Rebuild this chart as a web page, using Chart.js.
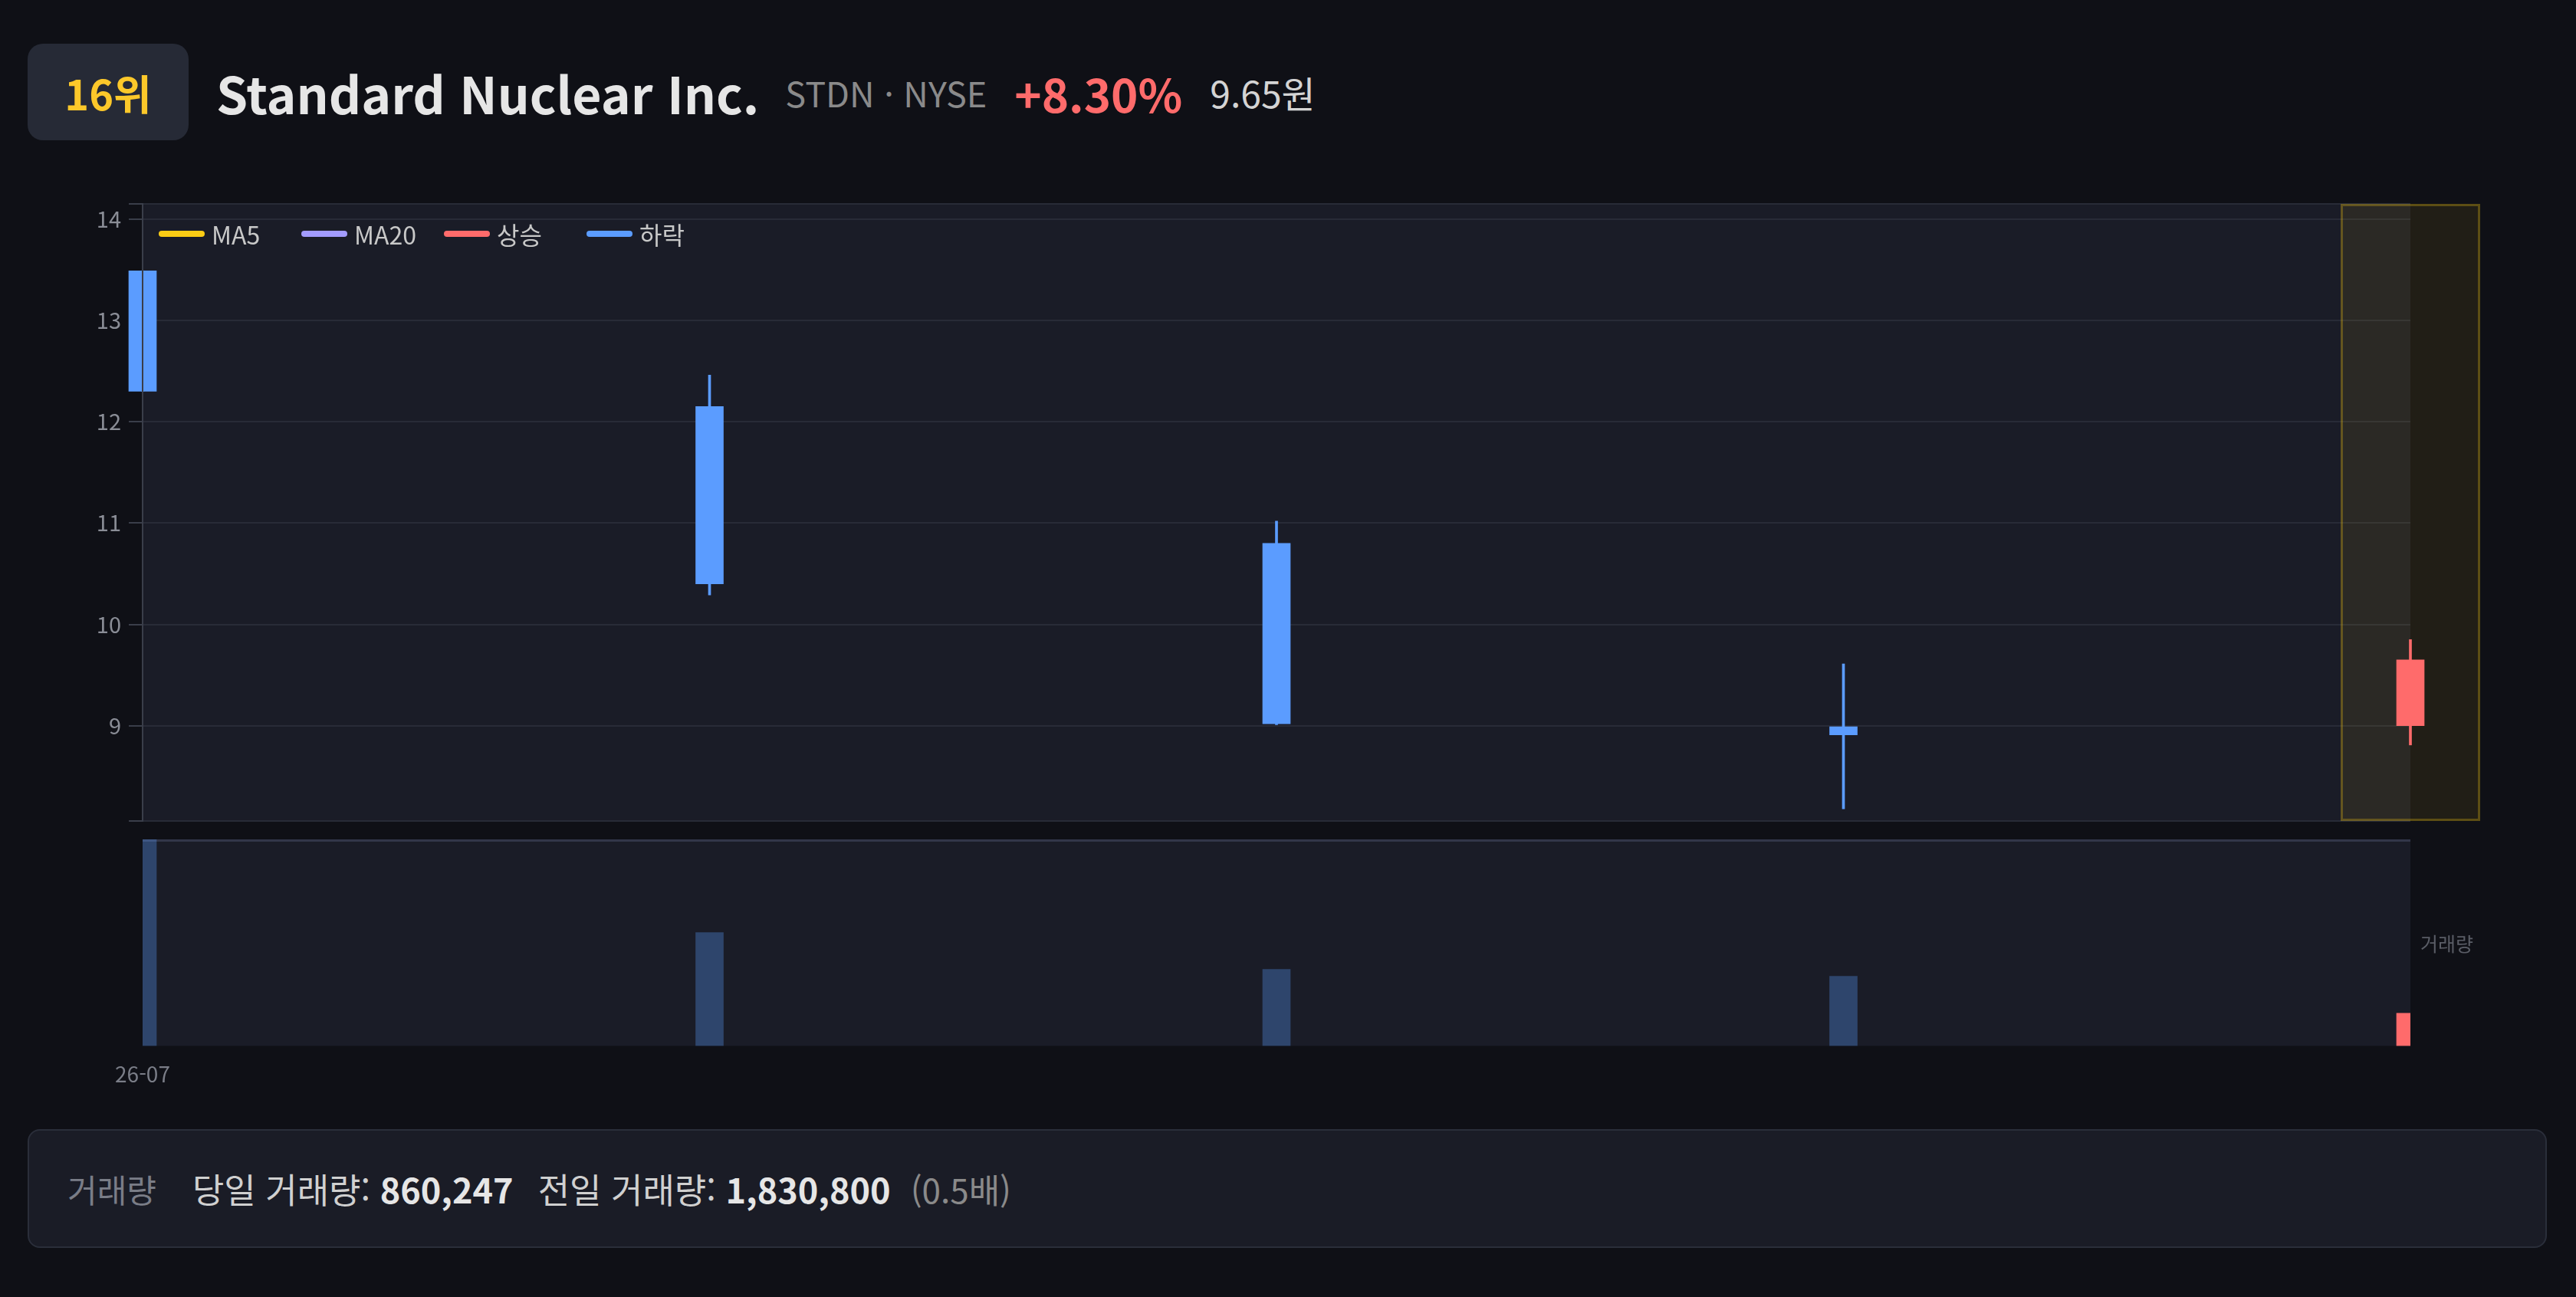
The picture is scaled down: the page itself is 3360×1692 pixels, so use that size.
<!DOCTYPE html>
<html lang="ko">
<head>
<meta charset="UTF-8" />
<title>Standard Nuclear Inc.</title>
<script src="https://cdn.jsdelivr.net/npm/chart.js"></script>
<style>
  body {
    margin: 0;
    width: 3360px;
    height: 1692px;
    overflow: hidden;
    background: #0f1016;
    font-family: 'Noto Sans CJK KR', 'Noto Sans', sans-serif;
    position: relative;
  }
  .header {
    position: absolute;
    left: 36px;
    top: 57px;
    height: 126px;
    display: flex;
    align-items: center;
    white-space: nowrap;
  }
  .rank {
    width: 210px;
    height: 126px;
    border-radius: 20px;
    background: #262a36;
    color: #fcc82a;
    font-weight: 700;
    font-size: 54px;
    display: flex;
    align-items: center;
    justify-content: center;
  }
  .name { margin-left: 36px; font-size: 66px; font-weight: 700; color: #e6e6e6; }
  .code { margin-left: 34px; font-size: 45px; color: #8a8a8a; }
  .pct { margin-left: 36px; font-size: 60px; font-weight: 700; color: #ff6b6b; }
  .price { margin-left: 36px; font-size: 48px; color: #d4d4d4; }
  .wrap { position: absolute; left: 0; width: 3360px; }
  #priceWrap { top: 250px; height: 840px; }
  #volWrap { top: 1085px; height: 359px; }
  .legend {
    position: absolute;
    left: 207px;
    top: 285px;
    height: 40px;
    display: flex;
    align-items: center;
    font-size: 32px;
    color: #c8c8c8;
  }
  .legend .item { width: 186px; display: flex; align-items: center; }
  .legend .mark { width: 60px; height: 8px; border-radius: 4px; margin-right: 9px; }
  .volLabel {
    position: absolute;
    left: 3157px;
    top: 1214px;
    font-size: 25px;
    line-height: 32px;
    color: #5a5d66;
  }
  .summary {
    position: absolute;
    left: 36px;
    top: 1473px;
    width: 3286px;
    height: 155px;
    box-sizing: border-box;
    border: 2px solid #2a2e3a;
    border-radius: 16px;
    background: #1a1c26;
    display: flex;
    align-items: center;
    padding-left: 50px;
    white-space: nowrap;
  }
  .summary .lbl { font-size: 42px; color: #7a7d87; margin-right: 47px; }
  .summary .txt { font-size: 45px; color: #d0d0d0; margin-right: 32px; }
  .summary .txt b { color: #e6e6e6; }
  .summary .ratio { font-size: 44px; color: #8a8a8a; margin-left: -6px; }
</style>
</head>
<body>
<div class="header">
  <div class="rank">16위</div>
  <div class="name">Standard Nuclear Inc.</div>
  <div class="code">STDN · NYSE</div>
  <div class="pct">+8.30%</div>
  <div class="price">9.65원</div>
</div>

<div class="wrap" id="priceWrap"><canvas id="priceChart"></canvas></div>
<div class="wrap" id="volWrap"><canvas id="volChart"></canvas></div>

<div class="legend" id="legend"></div>
<div class="volLabel">거래량</div>

<div class="summary">
  <span class="lbl">거래량</span>
  <span class="txt">당일 거래량: <b>860,247</b></span>
  <span class="txt">전일 거래량: <b>1,830,800</b></span>
  <span class="ratio">(0.5배)</span>
</div>

<script>
// 캔들 데이터
const labels = ['26-07', '26-07', '26-07', '26-07', '26-07'];
const opens  = [13.49, 12.15, 10.80, 8.99, 9.00];
const highs  = [13.49, 12.46, 11.02, 9.61, 9.85];
const lows   = [12.30, 10.29, 9.01, 8.18, 8.81];
const closes = [12.30, 10.40, 9.02, 8.91, 9.65];
const volumes = [5430000, 2980000, 2010000, 1830800, 860247];
const ma5  = [null, null, null, null, null];
const ma20 = [null, null, null, null, null];
const yTicks = [9, 10, 11, 12, 13, 14];
const yMin = 8.06, yMax = 14.15;

const UP = '#ff6b6b', DOWN = '#5b9cff';
const legendItems = [
  { text: 'MA5', color: '#facc15' },
  { text: 'MA20', color: '#a29bfe' },
  { text: '상승', color: UP },
  { text: '하락', color: DOWN }
];

const legendDiv = document.getElementById('legend');
legendItems.forEach(it => {
  const el = document.createElement('div');
  el.className = 'item';
  el.innerHTML = '<span class="mark" style="background:' + it.color + '"></span>' + it.text;
  legendDiv.appendChild(el);
});

const isUp = closes.map((c, i) => c >= opens[i]);
const candleColors = isUp.map(u => u ? UP : DOWN);
const lastIdx = closes.length - 1;
const volColors = isUp.map((u, i) => i === lastIdx ? (u ? UP : DOWN) : (u ? 'rgba(255,107,107,0.32)' : 'rgba(91,156,255,0.32)'));

Chart.defaults.font.family = "'Noto Sans CJK KR', 'Noto Sans', sans-serif";
Chart.defaults.animation = false;

// 차트 영역 배경
const panelBg = {
  id: 'panelBg',
  beforeDraw(chart, args, opts) {
    const a = chart.chartArea, ctx = chart.ctx;
    ctx.save();
    ctx.fillStyle = '#1a1c27';
    ctx.fillRect(a.left, a.top, a.right - a.left, a.bottom - a.top);
    if (opts.topLine) {
      ctx.strokeStyle = '#323649';
      ctx.lineWidth = 3;
      ctx.beginPath();
      ctx.moveTo(a.left, a.top + 1.5);
      ctx.lineTo(a.right, a.top + 1.5);
      ctx.stroke();
    }
    ctx.restore();
  }
};

// 오늘 캔들 강조 박스
const todayBox = {
  id: 'todayBox',
  beforeDatasetsDraw(chart) {
    const a = chart.chartArea, ctx = chart.ctx;
    const x = chart.scales.x.getPixelForValue(lastIdx);
    const half = 91;
    ctx.save();
    ctx.fillStyle = 'rgba(255, 200, 20, 0.08)';
    ctx.fillRect(x - half, a.top, half * 2, a.bottom - a.top);
    ctx.strokeStyle = 'rgba(220, 180, 20, 0.32)';
    ctx.lineWidth = 3;
    ctx.strokeRect(x - half + 1.5, a.top + 1.5, half * 2 - 3, a.bottom - a.top - 3);
    ctx.restore();
  }
};

new Chart(document.getElementById('priceChart'), {
  type: 'bar',
  data: {
    labels: labels,
    datasets: [
      {
        label: '몸통',
        data: opens.map((o, i) => [o, closes[i]]),
        backgroundColor: candleColors,
        barThickness: 36,
        grouped: false,
        clip: false,
        order: 1
      },
      {
        label: '꼬리',
        data: lows.map((l, i) => [l, highs[i]]),
        backgroundColor: candleColors,
        barThickness: 3,
        grouped: false,
        clip: false,
        order: 2
      },
      { type: 'line', label: 'MA5', data: ma5, borderColor: '#facc15', borderWidth: 3, pointRadius: 0 },
      { type: 'line', label: 'MA20', data: ma20, borderColor: '#a29bfe', borderWidth: 3, pointRadius: 0 }
    ]
  },
  options: {
    responsive: true,
    maintainAspectRatio: false,
    layout: { padding: { top: 16, bottom: 19, left: 0, right: 216 } },
    plugins: { legend: { display: false }, tooltip: { enabled: false }, panelBg: {} },
    scales: {
      x: { type: 'category', offset: false, display: false },
      y: {
        min: yMin,
        max: yMax,
        afterBuildTicks: s => { s.ticks = [yMin].concat(yTicks, [yMax]).map(v => ({ value: v })); },
        afterFit: s => { s.width = 186; s.paddingTop = 0; s.paddingBottom = 0; },
        ticks: {
          color: '#8a8d96',
          font: { size: 29 },
          padding: 10,
          callback: v => Number.isInteger(v) ? v : ''
        },
        grid: { color: '#282b37', lineWidth: 2, tickColor: '#3a3e4a', tickLength: 18 },
        border: { color: '#3a3e4a', width: 2, z: 1 }
      }
    }
  },
  plugins: [panelBg, todayBox]
});

new Chart(document.getElementById('volChart'), {
  type: 'bar',
  data: {
    labels: labels,
    datasets: [{
      label: '거래량',
      data: volumes,
      backgroundColor: volColors,
      barThickness: 36
    }]
  },
  options: {
    responsive: true,
    maintainAspectRatio: false,
    layout: { padding: { top: 10, bottom: 6, left: 186, right: 216 } },
    plugins: { legend: { display: false }, tooltip: { enabled: false }, panelBg: { topLine: true } },
    scales: {
      x: {
        type: 'category',
        offset: false,
        grid: { display: false, drawTicks: false, tickLength: 0 },
        border: { display: false },
        ticks: {
          color: '#7a7d87',
          font: { size: 28 },
          padding: 20,
          maxRotation: 0,
          autoSkip: false,
          callback: function (v, i) {
            const lab = this.getLabelForValue(v);
            return (i === 0 || lab !== labels[i - 1]) ? lab : '';
          }
        }
      },
      y: { display: false, min: 0, max: Math.max(...volumes) }
    }
  },
  plugins: [panelBg]
});
</script>
</body>
</html>
